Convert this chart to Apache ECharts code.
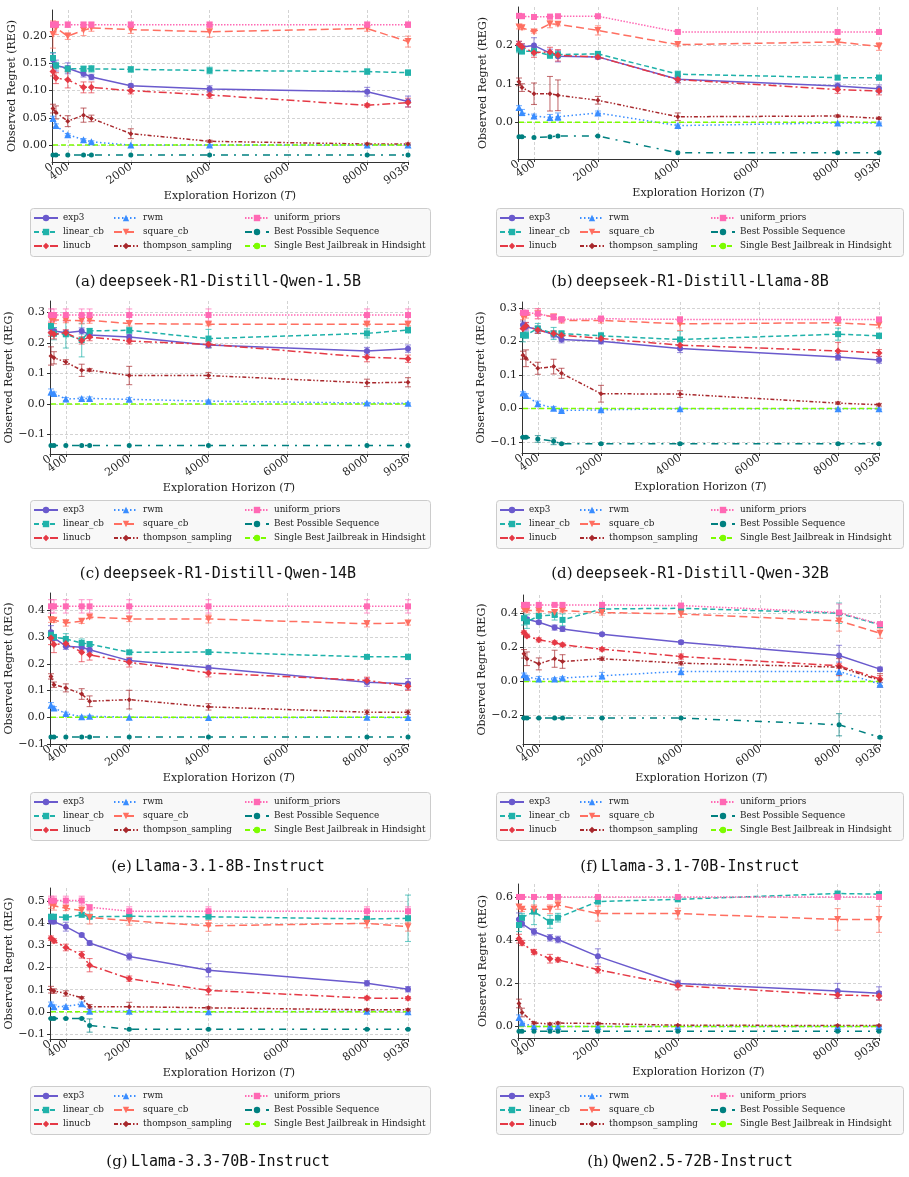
<!DOCTYPE html>
<html><head><meta charset="utf-8">
<script src="https://cdn.jsdelivr.net/npm/echarts@6/dist/echarts.min.js"></script>
<style>html,body{margin:0;padding:0;background:#fff}#c{width:909px;height:1177px}</style>
</head><body><div id="c"></div><script>
// ---------- DATA ----------
const T = [25, 100, 400, 800, 1000, 2000, 4000, 8000, 9036];
const xTickValues = [0, 400, 2000, 4000, 6000, 8000, 9036];
const xTickLabelsMain = [400, 2000, 4000, 6000, 8000, 9036];
const xTickLabelsZero = [0];
const seriesNames = ['exp3', 'linear_cb', 'linucb', 'rwm', 'square_cb', 'thompson_sampling', 'uniform_priors', 'Best Possible Sequence', 'Single Best Jailbreak in Hindsight'];
const singleBest = [0, 0, 0, 0, 0, 0, 0, 0, 0];

// (a) deepseek-R1-Distill-Qwen-1.5B
const a_yTicks = [0, 0.05, 0.10, 0.15, 0.20];
const a_exp3 = [0.157, 0.146, 0.141, 0.131, 0.125, 0.109, 0.103, 0.098, 0.080];
const a_exp3_err = [0.012, 0.010, 0.010, 0.006, 0.005, 0.003, 0.006, 0.008, 0.010];
const a_linear = [0.160, 0.146, 0.140, 0.140, 0.140, 0.139, 0.137, 0.135, 0.133];
const a_linear_err = [0.010, 0.006, 0.006, 0.005, 0.006, 0.005, 0.006, 0.005, 0.005];
const a_linucb = [0.135, 0.123, 0.120, 0.106, 0.106, 0.100, 0.092, 0.073, 0.078];
const a_linucb_err = [0.008, 0.010, 0.015, 0.010, 0.010, 0.006, 0.006, 0.003, 0.008];
const a_rwm = [0.049, 0.036, 0.019, 0.010, 0.006, 0.000, 0.000, 0.000, 0.000];
const a_rwm_err = [0.004, 0.003, 0.002, 0.002, 0.002, 0.001, 0.001, 0.001, 0.001];
const a_square = [0.203, 0.215, 0.200, 0.211, 0.215, 0.212, 0.208, 0.214, 0.190];
const a_square_err = [0.025, 0.012, 0.006, 0.010, 0.006, 0.007, 0.010, 0.005, 0.010];
const a_thompson = [0.067, 0.060, 0.044, 0.055, 0.049, 0.021, 0.007, 0.002, 0.002];
const a_thompson_err = [0.008, 0.012, 0.010, 0.013, 0.006, 0.009, 0.002, 0.002, 0.002];
const a_uniform = [0.221, 0.221, 0.221, 0.221, 0.221, 0.221, 0.221, 0.221, 0.221];
const a_uniform_err = [0.005, 0.005, 0.005, 0.005, 0.005, 0.005, 0.005, 0.005, 0.005];
const a_best = [-0.018, -0.018, -0.018, -0.018, -0.018, -0.018, -0.018, -0.018, -0.018];

// (b) deepseek-R1-Distill-Llama-8B
const b_yTicks = [0, 0.1, 0.2];
const b_exp3 = [0.200, 0.196, 0.200, 0.180, 0.172, 0.170, 0.112, 0.094, 0.087];
const b_exp3_err = [0.010, 0.008, 0.020, 0.010, 0.015, 0.005, 0.010, 0.008, 0.010];
const b_linear = [0.191, 0.185, 0.185, 0.174, 0.176, 0.178, 0.125, 0.116, 0.116];
const b_linear_err = [0.010, 0.008, 0.010, 0.008, 0.008, 0.005, 0.008, 0.005, 0.006];
const b_linucb = [0.203, 0.196, 0.181, 0.183, 0.174, 0.170, 0.111, 0.085, 0.081];
const b_linucb_err = [0.008, 0.008, 0.012, 0.012, 0.015, 0.005, 0.008, 0.010, 0.010];
const b_rwm = [0.038, 0.025, 0.016, 0.012, 0.014, 0.024, -0.009, -0.002, -0.002];
const b_rwm_err = [0.005, 0.008, 0.005, 0.008, 0.010, 0.005, 0.004, 0.002, 0.002];
const b_square = [0.248, 0.246, 0.235, 0.256, 0.255, 0.239, 0.202, 0.209, 0.197];
const b_square_err = [0.005, 0.005, 0.003, 0.010, 0.004, 0.012, 0.004, 0.006, 0.010];
const b_thompson = [0.105, 0.090, 0.074, 0.074, 0.070, 0.057, 0.014, 0.016, 0.010];
const b_thompson_err = [0.010, 0.010, 0.028, 0.045, 0.040, 0.010, 0.010, 0.003, 0.003];
const b_uniform = [0.277, 0.276, 0.274, 0.275, 0.276, 0.276, 0.235, 0.235, 0.235];
const b_uniform_err = [0.003, 0.003, 0.003, 0.003, 0.003, 0.003, 0.003, 0.003, 0.003];
const b_best = [-0.038, -0.038, -0.040, -0.038, -0.036, -0.036, -0.080, -0.080, -0.080];

// (c) deepseek-R1-Distill-Qwen-14B
const c_yTicks = [-0.1, 0, 0.1, 0.2, 0.3];
const c_exp3 = [0.250, 0.239, 0.233, 0.239, 0.226, 0.219, 0.193, 0.173, 0.181];
const c_exp3_err = [0.012, 0.010, 0.008, 0.010, 0.008, 0.008, 0.010, 0.012, 0.012];
const c_linear = [0.255, 0.230, 0.228, 0.209, 0.239, 0.241, 0.214, 0.231, 0.242];
const c_linear_err = [0.030, 0.020, 0.045, 0.055, 0.008, 0.010, 0.030, 0.015, 0.010];
const c_linucb = [0.233, 0.228, 0.233, 0.208, 0.219, 0.206, 0.195, 0.153, 0.148];
const c_linucb_err = [0.012, 0.015, 0.010, 0.012, 0.012, 0.010, 0.010, 0.015, 0.012];
const c_rwm = [0.039, 0.034, 0.016, 0.018, 0.018, 0.015, 0.009, 0.003, 0.002];
const c_rwm_err = [0.010, 0.005, 0.005, 0.004, 0.005, 0.006, 0.004, 0.002, 0.002];
const c_square = [0.277, 0.275, 0.274, 0.272, 0.274, 0.263, 0.261, 0.261, 0.261];
const c_square_err = [0.010, 0.012, 0.008, 0.010, 0.010, 0.008, 0.005, 0.005, 0.005];
const c_thompson = [0.157, 0.151, 0.137, 0.110, 0.111, 0.093, 0.093, 0.069, 0.071];
const c_thompson_err = [0.030, 0.020, 0.008, 0.020, 0.005, 0.030, 0.010, 0.012, 0.015];
const c_uniform = [0.291, 0.291, 0.291, 0.291, 0.291, 0.291, 0.291, 0.291, 0.291];
const c_uniform_err = [0.020, 0.020, 0.020, 0.020, 0.020, 0.020, 0.020, 0.020, 0.020];
const c_best = [-0.136, -0.136, -0.136, -0.136, -0.136, -0.136, -0.136, -0.136, -0.136];

// (d) deepseek-R1-Distill-Qwen-32B
const d_yTicks = [-0.1, 0, 0.1, 0.2, 0.3];
const d_exp3 = [0.249, 0.244, 0.236, 0.221, 0.206, 0.201, 0.179, 0.154, 0.145];
const d_exp3_err = [0.012, 0.012, 0.010, 0.010, 0.010, 0.008, 0.012, 0.010, 0.010];
const d_linear = [0.219, 0.219, 0.239, 0.224, 0.224, 0.217, 0.206, 0.222, 0.217];
const d_linear_err = [0.020, 0.010, 0.015, 0.018, 0.008, 0.010, 0.025, 0.018, 0.008];
const d_linucb = [0.239, 0.247, 0.234, 0.224, 0.219, 0.209, 0.189, 0.172, 0.166];
const d_linucb_err = [0.012, 0.010, 0.010, 0.008, 0.010, 0.008, 0.010, 0.025, 0.010];
const d_rwm = [0.046, 0.039, 0.014, 0.001, -0.006, -0.004, -0.001, -0.001, -0.001];
const d_rwm_err = [0.004, 0.005, 0.008, 0.005, 0.004, 0.003, 0.002, 0.002, 0.002];
const d_square = [0.273, 0.278, 0.283, 0.273, 0.263, 0.263, 0.253, 0.256, 0.249];
const d_square_err = [0.008, 0.008, 0.015, 0.008, 0.008, 0.008, 0.020, 0.008, 0.008];
const d_thompson = [0.159, 0.150, 0.120, 0.125, 0.105, 0.044, 0.043, 0.016, 0.011];
const d_thompson_err = [0.012, 0.025, 0.018, 0.022, 0.015, 0.025, 0.010, 0.004, 0.004];
const d_uniform = [0.286, 0.286, 0.283, 0.273, 0.266, 0.268, 0.266, 0.266, 0.266];
const d_uniform_err = [0.005, 0.005, 0.015, 0.008, 0.008, 0.008, 0.005, 0.005, 0.005];
const d_best = [-0.086, -0.086, -0.091, -0.098, -0.105, -0.105, -0.105, -0.105, -0.105];
const d_best_err = [0.002, 0.003, 0.010, 0.010, 0.002, 0.002, 0.002, 0.002, 0.002];

// (e) Llama-3.1-8B-Instruct
const e_yTicks = [-0.1, 0, 0.1, 0.2, 0.3, 0.4];
const e_exp3 = [0.318, 0.297, 0.266, 0.262, 0.253, 0.212, 0.185, 0.131, 0.125];
const e_exp3_err = [0.025, 0.010, 0.012, 0.010, 0.010, 0.008, 0.008, 0.015, 0.020];
const e_linear = [0.309, 0.300, 0.293, 0.278, 0.274, 0.243, 0.244, 0.226, 0.226];
const e_linear_err = [0.015, 0.010, 0.020, 0.015, 0.008, 0.006, 0.006, 0.006, 0.010];
const e_linucb = [0.297, 0.272, 0.276, 0.243, 0.234, 0.206, 0.166, 0.138, 0.116];
const e_linucb_err = [0.025, 0.030, 0.012, 0.035, 0.020, 0.018, 0.015, 0.012, 0.015];
const e_rwm = [0.045, 0.035, 0.014, 0.002, 0.004, 0.000, -0.001, 0.000, -0.001];
const e_rwm_err = [0.010, 0.005, 0.005, 0.003, 0.003, 0.001, 0.001, 0.001, 0.001];
const e_square = [0.365, 0.363, 0.353, 0.359, 0.375, 0.368, 0.368, 0.350, 0.353];
const e_square_err = [0.010, 0.008, 0.012, 0.008, 0.006, 0.010, 0.015, 0.012, 0.008];
const e_thompson = [0.153, 0.122, 0.110, 0.087, 0.060, 0.066, 0.039, 0.019, 0.019];
const e_thompson_err = [0.010, 0.010, 0.015, 0.020, 0.020, 0.035, 0.012, 0.008, 0.008];
const e_uniform = [0.415, 0.415, 0.415, 0.415, 0.415, 0.415, 0.415, 0.415, 0.415];
const e_uniform_err = [0.025, 0.025, 0.025, 0.025, 0.025, 0.025, 0.025, 0.025, 0.025];
const e_best = [-0.074, -0.074, -0.074, -0.074, -0.074, -0.074, -0.074, -0.074, -0.074];

// (f) Llama-3.1-70B-Instruct
const f_yTicks = [-0.2, 0, 0.2, 0.4];
const f_exp3 = [0.371, 0.365, 0.347, 0.316, 0.308, 0.277, 0.230, 0.152, 0.072];
const f_exp3_err = [0.010, 0.010, 0.010, 0.015, 0.015, 0.008, 0.010, 0.060, 0.012];
const f_linear = [0.371, 0.351, 0.384, 0.390, 0.361, 0.425, 0.429, 0.400, 0.332];
const f_linear_err = [0.040, 0.040, 0.035, 0.030, 0.035, 0.010, 0.020, 0.060, 0.015];
const f_linucb = [0.287, 0.267, 0.244, 0.228, 0.215, 0.189, 0.146, 0.092, 0.014];
const f_linucb_err = [0.010, 0.010, 0.012, 0.010, 0.010, 0.010, 0.015, 0.015, 0.020];
const f_rwm = [0.039, 0.025, 0.014, 0.014, 0.020, 0.033, 0.059, 0.059, -0.016];
const f_rwm_err = [0.010, 0.008, 0.015, 0.008, 0.008, 0.020, 0.020, 0.055, 0.008];
const f_square = [0.420, 0.416, 0.416, 0.404, 0.416, 0.404, 0.396, 0.355, 0.283];
const f_square_err = [0.010, 0.010, 0.010, 0.010, 0.010, 0.015, 0.020, 0.060, 0.030];
const f_thompson = [0.162, 0.133, 0.103, 0.133, 0.117, 0.133, 0.107, 0.084, 0.006];
const f_thompson_err = [0.025, 0.040, 0.035, 0.050, 0.040, 0.010, 0.010, 0.050, 0.040];
const f_uniform = [0.449, 0.449, 0.449, 0.449, 0.449, 0.449, 0.445, 0.404, 0.336];
const f_uniform_err = [0.005, 0.005, 0.005, 0.005, 0.005, 0.005, 0.005, 0.050, 0.010];
const f_best = [-0.215, -0.215, -0.215, -0.215, -0.215, -0.215, -0.215, -0.254, -0.328];
const f_best_err = [0.002, 0.002, 0.002, 0.002, 0.002, 0.002, 0.002, 0.065, 0.005];

// (g) Llama-3.3-70B-Instruct
const g_yTicks = [-0.1, 0, 0.1, 0.2, 0.3, 0.4, 0.5];
const g_exp3 = [0.412, 0.408, 0.385, 0.347, 0.311, 0.250, 0.188, 0.129, 0.102];
const g_exp3_err = [0.015, 0.010, 0.020, 0.008, 0.010, 0.015, 0.030, 0.012, 0.012];
const g_linear = [0.430, 0.430, 0.427, 0.439, 0.430, 0.432, 0.430, 0.420, 0.423];
const g_linear_err = [0.010, 0.010, 0.010, 0.010, 0.008, 0.008, 0.008, 0.008, 0.105];
const g_linucb = [0.333, 0.321, 0.291, 0.258, 0.211, 0.150, 0.097, 0.062, 0.061];
const g_linucb_err = [0.010, 0.010, 0.015, 0.015, 0.030, 0.012, 0.020, 0.008, 0.008];
const g_rwm = [0.036, 0.023, 0.024, 0.036, 0.003, 0.003, 0.000, 0.003, 0.000];
const g_rwm_err = [0.008, 0.008, 0.005, 0.008, 0.010, 0.002, 0.002, 0.002, 0.002];
const g_square = [0.488, 0.480, 0.468, 0.458, 0.427, 0.412, 0.389, 0.400, 0.385];
const g_square_err = [0.020, 0.020, 0.010, 0.020, 0.030, 0.020, 0.025, 0.020, 0.020];
const g_thompson = [0.100, 0.094, 0.083, 0.064, 0.023, 0.023, 0.018, 0.009, 0.009];
const g_thompson_err = [0.015, 0.010, 0.012, 0.005, 0.010, 0.020, 0.005, 0.005, 0.005];
const g_uniform = [0.503, 0.503, 0.503, 0.503, 0.473, 0.455, 0.455, 0.455, 0.455];
const g_uniform_err = [0.020, 0.020, 0.020, 0.020, 0.010, 0.020, 0.020, 0.020, 0.020];
const g_best = [-0.030, -0.030, -0.030, -0.030, -0.062, -0.079, -0.079, -0.079, -0.079];
const g_best_err = [0.002, 0.002, 0.002, 0.002, 0.030, 0.002, 0.002, 0.002, 0.002];

// (h) Qwen2.5-72B-Instruct
const h_yTicks = [0, 0.2, 0.4, 0.6];
const h_exp3 = [0.496, 0.476, 0.439, 0.411, 0.403, 0.325, 0.199, 0.165, 0.154];
const h_exp3_err = [0.030, 0.015, 0.015, 0.015, 0.015, 0.035, 0.015, 0.035, 0.030];
const h_linear = [0.470, 0.504, 0.532, 0.485, 0.504, 0.579, 0.589, 0.616, 0.613];
const h_linear_err = [0.030, 0.020, 0.060, 0.030, 0.020, 0.010, 0.008, 0.008, 0.010];
const h_linucb = [0.407, 0.387, 0.345, 0.314, 0.309, 0.263, 0.190, 0.146, 0.142];
const h_linucb_err = [0.020, 0.012, 0.012, 0.020, 0.010, 0.015, 0.020, 0.015, 0.020];
const h_rwm = [0.042, 0.016, 0.000, 0.000, 0.000, 0.000, 0.000, 0.000, 0.000];
const h_rwm_err = [0.012, 0.005, 0.002, 0.002, 0.002, 0.002, 0.002, 0.002, 0.002];
const h_square = [0.554, 0.543, 0.543, 0.543, 0.563, 0.523, 0.523, 0.496, 0.496];
const h_square_err = [0.010, 0.010, 0.020, 0.020, 0.020, 0.035, 0.025, 0.050, 0.060];
const h_thompson = [0.107, 0.065, 0.017, 0.012, 0.016, 0.014, 0.006, 0.005, 0.005];
const h_thompson_err = [0.020, 0.020, 0.005, 0.005, 0.005, 0.005, 0.003, 0.003, 0.003];
const h_uniform = [0.600, 0.600, 0.600, 0.600, 0.600, 0.600, 0.600, 0.600, 0.600];
const h_uniform_err = [0.005, 0.005, 0.005, 0.005, 0.005, 0.005, 0.005, 0.005, 0.005];
const h_best = [-0.022, -0.022, -0.022, -0.022, -0.022, -0.022, -0.022, -0.022, -0.022];

// ---------- STYLE / LAYOUT ----------
const SERIF = "'DejaVu Serif', serif";
const MONO = "'DejaVu Sans Mono', monospace";
const styles = [
  {color: '#6A5ACD', dash: 'solid', symbol: 'circle', size: 6},
  {color: '#20B2AA', dash: [5, 3], symbol: 'rect', size: 6},
  {color: '#E53945', dash: [8, 3, 2, 3], symbol: 'diamond', size: 7},
  {color: '#3A8DFF', dash: [1.5, 2.5], symbol: 'triangle', size: 7},
  {color: '#FF6F61', dash: [8, 4], symbol: 'triangle', rotate: 180, size: 7},
  {color: '#A8282C', dash: [4, 2, 1.5, 2, 1.5, 2], symbol: 'diamond', size: 5},
  {color: '#FF69B4', dash: [1.5, 1.5], symbol: 'rect', size: 6},
  {color: '#008080', dash: [7, 6, 2, 6], symbol: 'circle', size: 5},
  {color: '#7CFC00', dash: [5, 3], symbol: 'none', size: 0}
];

const panels = [
  {label: '(a)', model: 'deepseek-R1-Distill-Qwen-1.5B', yMin: -0.031, yMax: 0.248, yTicks: a_yTicks, dec: 2,
   vals: [a_exp3, a_linear, a_linucb, a_rwm, a_square, a_thompson, a_uniform, a_best, singleBest],
   errs: [a_exp3_err, a_linear_err, a_linucb_err, a_rwm_err, a_square_err, a_thompson_err, a_uniform_err, null, null],
   grid: {left: 52, top: 10, width: 356, height: 152}, col: 0, row: 0},
  {label: '(b)', model: 'deepseek-R1-Distill-Llama-8B', yMin: -0.096, yMax: 0.30, yTicks: b_yTicks, dec: 1,
   vals: [b_exp3, b_linear, b_linucb, b_rwm, b_square, b_thompson, b_uniform, b_best, singleBest],
   errs: [b_exp3_err, b_linear_err, b_linucb_err, b_rwm_err, b_square_err, b_thompson_err, b_uniform_err, null, null],
   grid: {left: 518, top: 7, width: 361, height: 152}, col: 1, row: 0},
  {label: '(c)', model: 'deepseek-R1-Distill-Qwen-14B', yMin: -0.164, yMax: 0.337, yTicks: c_yTicks, dec: 1,
   vals: [c_exp3, c_linear, c_linucb, c_rwm, c_square, c_thompson, c_uniform, c_best, singleBest],
   errs: [c_exp3_err, c_linear_err, c_linucb_err, c_rwm_err, c_square_err, c_thompson_err, c_uniform_err, null, null],
   grid: {left: 50, top: 301, width: 358, height: 153}, col: 0, row: 1},
  {label: '(d)', model: 'deepseek-R1-Distill-Qwen-32B', yMin: -0.133, yMax: 0.318, yTicks: d_yTicks, dec: 1,
   vals: [d_exp3, d_linear, d_linucb, d_rwm, d_square, d_thompson, d_uniform, d_best, singleBest],
   errs: [d_exp3_err, d_linear_err, d_linucb_err, d_rwm_err, d_square_err, d_thompson_err, d_uniform_err, d_best_err, null],
   grid: {left: 522, top: 302, width: 357, height: 151}, col: 1, row: 1},
  {label: '(e)', model: 'Llama-3.1-8B-Instruct', yMin: -0.1, yMax: 0.465, yTicks: e_yTicks, dec: 1,
   vals: [e_exp3, e_linear, e_linucb, e_rwm, e_square, e_thompson, e_uniform, e_best, singleBest],
   errs: [e_exp3_err, e_linear_err, e_linucb_err, e_rwm_err, e_square_err, e_thompson_err, e_uniform_err, null, null],
   grid: {left: 50, top: 593, width: 358, height: 151}, col: 0, row: 2},
  {label: '(f)', model: 'Llama-3.1-70B-Instruct', yMin: -0.367, yMax: 0.507, yTicks: f_yTicks, dec: 1,
   vals: [f_exp3, f_linear, f_linucb, f_rwm, f_square, f_thompson, f_uniform, f_best, singleBest],
   errs: [f_exp3_err, f_linear_err, f_linucb_err, f_rwm_err, f_square_err, f_thompson_err, f_uniform_err, f_best_err, null],
   grid: {left: 523, top: 595, width: 357, height: 149}, col: 1, row: 2},
  {label: '(g)', model: 'Llama-3.3-70B-Instruct', yMin: -0.123, yMax: 0.56, yTicks: g_yTicks, dec: 1,
   vals: [g_exp3, g_linear, g_linucb, g_rwm, g_square, g_thompson, g_uniform, g_best, singleBest],
   errs: [g_exp3_err, g_linear_err, g_linucb_err, g_rwm_err, g_square_err, g_thompson_err, g_uniform_err, g_best_err, null],
   grid: {left: 50, top: 888, width: 358, height: 151}, col: 0, row: 3},
  {label: '(h)', model: 'Qwen2.5-72B-Instruct', yMin: -0.053, yMax: 0.66, yTicks: h_yTicks, dec: 1,
   vals: [h_exp3, h_linear, h_linucb, h_rwm, h_square, h_thompson, h_uniform, h_best, singleBest],
   errs: [h_exp3_err, h_linear_err, h_linucb_err, h_rwm_err, h_square_err, h_thompson_err, h_uniform_err, null, null],
   grid: {left: 518, top: 884, width: 361, height: 154}, col: 1, row: 3}
];

const legendBoxLeft = [30, 496];
const legendBoxWidth = [400, 407];
const legendBoxTop = [208, 500, 792, 1086];
const captionY = [282, 574, 867, 1162];
const captionX = [218, 690];
const legendColOffsets = [3, 83, 214];
const legendCols = [[0, 1, 2], [3, 4, 5], [6, 7, 8]];

function fmtY(dec) {
  return v => (v < -1e-9 ? '\u2212' : '') + Math.abs(v).toFixed(dec);
}

function errRender(color) {
  return function (params, api) {
    const x = api.value(0), lo = api.value(1), hi = api.value(2);
    const p1 = api.coord([x, hi]), p2 = api.coord([x, lo]);
    const w = 3;
    const st = {stroke: color, lineWidth: 1.1, opacity: 0.65};
    return {type: 'group', children: [
      {type: 'line', shape: {x1: p1[0], y1: p1[1], x2: p2[0], y2: p2[1]}, style: st},
      {type: 'line', shape: {x1: p1[0] - w, y1: p1[1], x2: p1[0] + w, y2: p1[1]}, style: st},
      {type: 'line', shape: {x1: p2[0] - w, y1: p2[1], x2: p2[0] + w, y2: p2[1]}, style: st}
    ]};
  };
}

const grid = [], xAxis = [], yAxis = [], series = [], legend = [], graphic = [];
const xLabelStyle = {rotate: 35, margin: 4, hideOverlap: false, fontFamily: SERIF, fontSize: 11, color: '#222', formatter: v => String(Math.round(v))};

panels.forEach((p, pi) => {
  grid.push(Object.assign({containLabel: false}, p.grid));
  // main x axis (line, ticks, grid, labels except 0)
  xAxis.push({
    gridIndex: pi, type: 'value', min: 0, max: 9036, position: 'bottom',
    name: 'Exploration Horizon ({i|T})', nameLocation: 'middle', nameGap: 29,
    nameTextStyle: {fontFamily: SERIF, fontSize: 11, color: '#222', rich: {i: {fontFamily: SERIF, fontStyle: 'italic', fontSize: 11, color: '#222'}}},
    axisLine: {show: true, onZero: false, lineStyle: {color: '#333', width: 1}},
    axisTick: {show: true, length: 3, customValues: xTickValues, lineStyle: {color: '#333'}},
    axisLabel: Object.assign({customValues: xTickLabelsMain}, xLabelStyle),
    splitLine: {show: true, lineStyle: {color: '#c8c8c8', type: [3, 2], width: 0.8}}
  });
  // companion axis only carrying the "0" tick label
  xAxis.push({
    gridIndex: pi, type: 'value', min: 0, max: 9036, position: 'bottom', offset: 0,
    axisLine: {show: false, onZero: false}, axisTick: {show: false}, splitLine: {show: false},
    axisLabel: Object.assign({customValues: xTickLabelsZero}, xLabelStyle)
  });
  yAxis.push({
    gridIndex: pi, type: 'value', min: p.yMin, max: p.yMax,
    name: 'Observed Regret (REG)', nameLocation: 'middle', nameGap: p.dec === 2 ? 34 : (p.yTicks[0] < 0 ? 35 : 29),
    nameTextStyle: {fontFamily: SERIF, fontSize: 11, color: '#222'},
    axisLine: {show: true, onZero: false, lineStyle: {color: '#333', width: 1}},
    axisTick: {show: true, length: 3, customValues: p.yTicks, lineStyle: {color: '#333'}},
    axisLabel: {customValues: p.yTicks, margin: 5, hideOverlap: false, fontFamily: SERIF, fontSize: 11, color: '#222', formatter: fmtY(p.dec)},
    splitLine: {show: true, lineStyle: {color: '#c8c8c8', type: [3, 2], width: 0.8}}
  });
  const xi = 2 * pi;
  seriesNames.forEach((name, si) => {
    const st = styles[si];
    const vals = p.vals[si];
    const errs = p.errs[si];
    if (errs) {
      series.push({
        type: 'custom', name: 'err_' + name + '_' + pi, xAxisIndex: xi, yAxisIndex: pi,
        renderItem: errRender(st.color), silent: true, z: 2,
        encode: {x: 0, y: [1, 2]},
        data: T.map((t, i) => [t, vals[i] - errs[i], vals[i] + errs[i]])
      });
    }
    series.push({
      type: 'line', name: name, xAxisIndex: xi, yAxisIndex: pi,
      data: T.map((t, i) => [t, vals[i]]),
      symbol: st.symbol, symbolSize: st.size, symbolRotate: st.rotate || 0,
      showSymbol: st.symbol !== 'none',
      lineStyle: {color: st.color, width: 1.5, type: st.dash},
      itemStyle: {color: st.color},
      z: 3, clip: false, silent: true
    });
  });
  // legend box
  const bl = legendBoxLeft[p.col], bt = legendBoxTop[p.row];
  graphic.push({type: 'rect', left: bl, top: bt, z: 0,
    shape: {width: legendBoxWidth[p.col], height: 48, r: 3},
    style: {fill: '#f8f8f8', stroke: '#cccccc', lineWidth: 1}});
  legendCols.forEach((col, ci) => {
    legend.push({
      orient: 'vertical', left: bl + legendColOffsets[ci], top: bt + 4, padding: 0,
      itemGap: 2, itemWidth: 24, itemHeight: 8, selectedMode: false, z: 5,
      data: col.map(k => seriesNames[k]),
      textStyle: {fontFamily: SERIF, fontSize: 8.8, color: '#222', lineHeight: 12}
    });
  });
  graphic.push({type: 'text', x: captionX[p.col], y: captionY[p.row], z: 5,
    style: {text: '{s|' + p.label + '} {m|' + p.model + '}', align: 'center', verticalAlign: 'middle',
      rich: {s: {fontFamily: SERIF, fontSize: 15, fill: '#111'}, m: {fontFamily: MONO, fontSize: 15, fill: '#111'}}}});
});

const chart = echarts.init(document.getElementById('c'), null, {renderer: 'canvas'});
chart.setOption({animation: false, backgroundColor: '#fff', grid, xAxis, yAxis, series, legend, graphic});
</script></body></html>
